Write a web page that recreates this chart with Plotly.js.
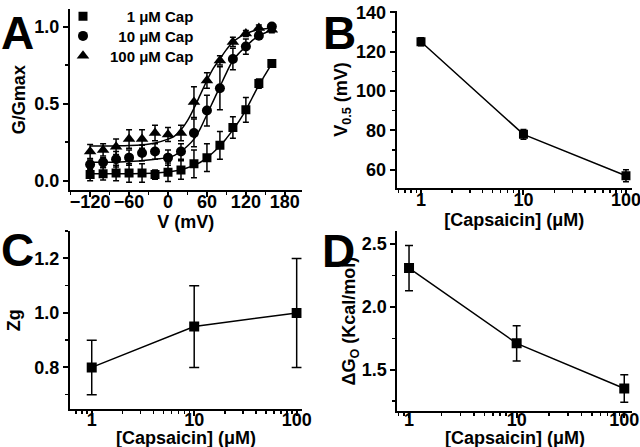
<!DOCTYPE html>
<html>
<head>
<meta charset="utf-8">
<script src="https://cdn.plot.ly/plotly-3.0.1.min.js"></script>
<style>
  html, body { margin: 0; padding: 0; background: #fff; }
  #chart { width: 640px; height: 447px; }
</style>
</head>
<body>
<div id="chart"></div>
<script>
// ---------- Panel A data: G/Gmax vs voltage ----------
const volt = [-120, -100, -80, -60, -40, -20, 0, 20, 40, 60, 80, 100, 120, 140, 160];
const g1   = [0.04, 0.045, 0.05, 0.05, 0.05, 0.04, 0.055, 0.07, 0.11, 0.15, 0.23, 0.345, 0.46, 0.63, 0.76];
const e1   = [0.04, 0.04, 0.05, 0.06, 0.06, 0.03, 0.06, 0.06, 0.09, 0.09, 0.09, 0.07, 0.08, 0.03, 0.015];
const g10  = [0.105, 0.12, 0.14, 0.15, 0.18, 0.19, 0.15, 0.19, 0.31, 0.455, 0.60, 0.79, 0.87, 0.94, 1.0];
const e10  = [0.03, 0.03, 0.05, 0.05, 0.05, 0.05, 0.05, 0.05, 0.09, 0.10, 0.14, 0.07, 0.05, 0.02, 0.01];
const g100 = [0.19, 0.20, 0.22, 0.27, 0.27, 0.31, 0.30, 0.31, 0.51, 0.65, 0.78, 0.90, 0.955, 0.99, 0.98];
const e100 = [0.045, 0.04, 0.05, 0.06, 0.06, 0.05, 0.045, 0.05, 0.10, 0.05, 0.03, 0.03, 0.02, 0.02, 0.02];

// fitted curves
const fitV   = [-120, -100, -80, -60, -40, -20, 0, 10, 20, 30, 40, 50, 60, 70, 80, 90, 100, 110, 120, 130, 140, 150, 160];
const fit1   = [0.045, 0.045, 0.045, 0.046, 0.047, 0.05, 0.057, 0.063, 0.072, 0.084, 0.10, 0.12, 0.15, 0.185, 0.225, 0.275, 0.33, 0.39, 0.46, 0.54, 0.62, 0.69, 0.76];
const fit10  = [0.12, 0.12, 0.12, 0.125, 0.13, 0.14, 0.15, 0.165, 0.19, 0.225, 0.27, 0.34, 0.43, 0.52, 0.61, 0.70, 0.78, 0.83, 0.87, 0.91, 0.94, 0.96, 0.975];
const fit100 = [0.225, 0.225, 0.226, 0.228, 0.233, 0.245, 0.27, 0.29, 0.33, 0.39, 0.47, 0.56, 0.65, 0.73, 0.79, 0.85, 0.90, 0.93, 0.955, 0.97, 0.98, 0.985, 0.99];

const seriesNames = ['\u00A0\u00A0\u00A0\u00A01 \u03BCM Cap', '\u00A0\u00A010 \u03BCM Cap', '100 \u03BCM Cap'];

// ---------- Panels B, C, D ----------
const conc   = [1, 10, 100];
const v05    = [125, 78, 57];
const v05Err = [2, 2.5, 3];
const zg     = [0.8, 0.95, 1.0];
const zgErr  = [0.1, 0.15, 0.2];
const dG     = [2.31, 1.71, 1.35];
const dGErr  = [0.18, 0.14, 0.11];

const concTitle = '[Capsaicin] (\u03BCM)';

// ---------- styling ----------
const FONT = 'Liberation Sans, Arial, Helvetica, sans-serif';
const tickFont = {family: FONT, size: 18, color: '#000', weight: 'bold'};
const titleFont = {family: FONT, size: 18, color: '#000', weight: 'bold'};
const legFont = {family: FONT, size: 15, color: '#000', weight: 'bold'};

function errBar(arr, w) {
  return {type: 'data', array: arr, visible: true, color: '#000', thickness: 1.5, width: w};
}

const traces = [];
const markerSets = [
  {y: g1, e: e1, sym: 'square', size: 9, fit: fit1, leg: 'legend'},
  {y: g10, e: e10, sym: 'circle', size: 10, fit: fit10, leg: 'legend2'},
  {y: g100, e: e100, sym: 'triangle-up', size: 11, fit: fit100, leg: 'legend3'}
];
markerSets.forEach((s) => {
  traces.push({
    x: fitV, y: s.fit, xaxis: 'x', yaxis: 'y', mode: 'lines', type: 'scatter',
    line: {color: '#000', width: 1.5, shape: 'spline', smoothing: 1}, showlegend: false, hoverinfo: 'skip'
  });
});
markerSets.forEach((s, i) => {
  traces.push({
    x: volt, y: s.y, xaxis: 'x', yaxis: 'y', mode: 'markers', type: 'scatter', name: seriesNames[i],
    legend: s.leg,
    marker: {symbol: s.sym, size: s.size, color: '#000'},
    error_y: errBar(s.e, 3), showlegend: true
  });
});

traces.push({x: conc, y: v05, xaxis: 'x2', yaxis: 'y2', mode: 'lines+markers', type: 'scatter',
  line: {color: '#000', width: 1.5}, marker: {symbol: 'square', size: 9, color: '#000'},
  error_y: errBar(v05Err, 3), showlegend: false});
traces.push({x: conc, y: zg, xaxis: 'x3', yaxis: 'y3', mode: 'lines+markers', type: 'scatter',
  line: {color: '#000', width: 1.5}, marker: {symbol: 'square', size: 10, color: '#000'},
  error_y: errBar(zgErr, 5), showlegend: false});
traces.push({x: conc, y: dG, xaxis: 'x4', yaxis: 'y4', mode: 'lines+markers', type: 'scatter',
  line: {color: '#000', width: 1.5}, marker: {symbol: 'square', size: 10, color: '#000'},
  error_y: errBar(dGErr, 4), showlegend: false});

const minorStyle = {ticks: 'outside', ticklen: 3, tickwidth: 1.5, tickcolor: '#000'};
function axBase(extra) {
  return Object.assign({
    showline: true, linecolor: '#000', linewidth: 2, mirror: false,
    ticks: 'outside', ticklen: 5, tickwidth: 2, tickcolor: '#000', ticklabeloverflow: 'allow',
    showgrid: false, zeroline: false, tickfont: tickFont, automargin: false, fixedrange: true
  }, extra);
}

const H = 447, W = 640;
const px = v => v / W, py = v => 1 - v / H;

function legendAt(topPx) {
  return {x: px(56), y: py(topPx), xanchor: 'left', yanchor: 'top', bgcolor: 'rgba(0,0,0,0)',
          font: legFont, itemwidth: 44, tracegroupgap: 0};
}
function letter(t, x, y) {
  return {text: t, x: px(x), y: py(y), xref: 'paper', yref: 'paper', xanchor: 'center', yanchor: 'middle',
          showarrow: false, font: {family: FONT, size: 46, color: '#000', weight: 'bold'}};
}
function bottomTitle(t, x, y) {
  return {text: t, x: px(x), y: py(y), xref: 'paper', yref: 'paper', xanchor: 'center', yanchor: 'middle',
          showarrow: false, font: titleFont};
}

const layout = {
  width: W, height: H,
  margin: {l: 0, r: 0, t: 0, b: 0},
  paper_bgcolor: '#fff', plot_bgcolor: 'rgba(0,0,0,0)',
  showlegend: true,
  legend: legendAt(-4.2),
  legend2: legendAt(15.8),
  legend3: legendAt(35.8),
  // Panel A
  xaxis: axBase({domain: [px(70), px(301.7)], range: [-151, 206], anchor: 'y',
    tickmode: 'linear', tick0: -120, dtick: 60, ticklabelstandoff: -11,
    minor: Object.assign({dtick: 30, tick0: -120}, minorStyle),
    title: {text: 'V (mV)', font: titleFont, standoff: 1}}),
  yaxis: axBase({domain: [py(188), py(5)], range: [-0.062, 1.114], anchor: 'x',
    tickmode: 'linear', tick0: 0, dtick: 0.5, tickformat: '.1f',
    minor: Object.assign({dtick: 0.25, tick0: 0}, minorStyle),
    title: {text: 'G/Gmax', font: titleFont, standoff: 4}}),
  // Panel B
  xaxis2: axBase({domain: [px(396.7), px(631.7)], type: 'log', range: [-0.237, 2.056], anchor: 'y2',
    dtick: 1, ticklabelstandoff: -11, minor: Object.assign({dtick: 'D1'}, minorStyle),
    title: {text: concTitle, font: titleFont, standoff: 0}}),
  yaxis2: axBase({domain: [py(186), py(6.7)], range: [50.6, 140.8], anchor: 'x2',
    tickmode: 'linear', tick0: 60, dtick: 20,
    minor: Object.assign({dtick: 10, tick0: 60}, minorStyle),
    title: {text: 'V<sub>0.5</sub> (mV)', font: titleFont, standoff: 4}}),
  // Panel C
  xaxis3: axBase({domain: [px(70), px(301.7)], type: 'log', range: [-0.212, 2.049], anchor: 'y3',
    dtick: 1, ticklabelstandoff: -12, minor: Object.assign({dtick: 'D1'}, minorStyle)}),
  yaxis3: axBase({domain: [py(409), py(229.3)], range: [0.646, 1.30], anchor: 'x3',
    tickmode: 'linear', tick0: 0.8, dtick: 0.2, tickformat: '.1f',
    minor: Object.assign({dtick: 0.1, tick0: 0.8}, minorStyle),
    title: {text: 'Zg', font: titleFont, standoff: 9}}),
  // Panel D
  xaxis4: axBase({domain: [px(397.3), px(631.7)], type: 'log', range: [-0.109, 2.069], anchor: 'y4',
    dtick: 1, ticklabelstandoff: -14, minor: Object.assign({dtick: 'D1'}, minorStyle)}),
  yaxis4: axBase({domain: [py(410.7), py(229.3)], range: [1.171, 2.603], anchor: 'x4',
    tickmode: 'linear', tick0: 1.5, dtick: 0.5, tickformat: '.1f',
    minor: Object.assign({dtick: 0.25, tick0: 1.5}, minorStyle),
    title: {text: '\u0394G<sub>O</sub> (Kcal/mol)', font: titleFont, standoff: 0}}),
  annotations: [
    letter('A', 17.5, 29), letter('B', 339, 29), letter('C', 17.5, 248), letter('D', 338, 249),
    bottomTitle(concTitle, 186, 437.5),
    bottomTitle(concTitle, 514.5, 438)
  ]
};

Plotly.newPlot('chart', traces, layout, {displayModeBar: false, staticPlot: true});
</script>
</body>
</html>
